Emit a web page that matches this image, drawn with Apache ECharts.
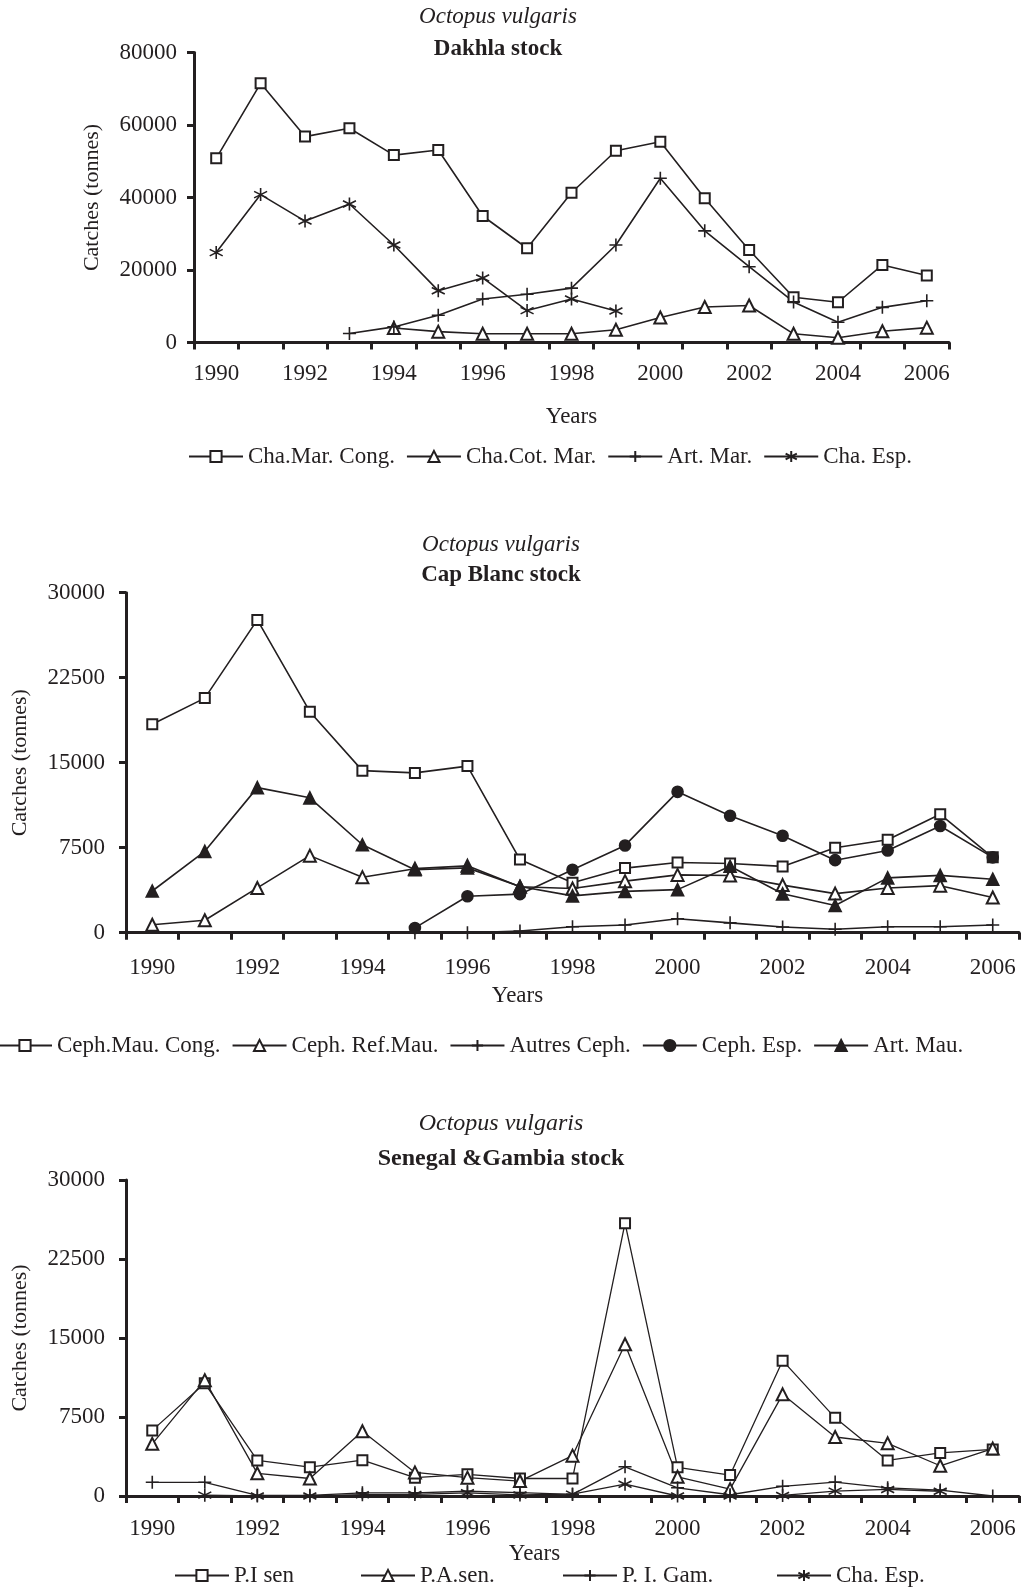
<!DOCTYPE html>
<html>
<head>
<meta charset="utf-8">
<script src="https://cdn.jsdelivr.net/npm/echarts@6/dist/echarts.min.js"></script>
<style>
html,body{margin:0;padding:0;background:#fff;}
#chart{width:1029px;height:1591px;}
</style>
</head>
<body>
<div id="chart"></div>
<script>
// ---------- DATA ----------
const years = ['1990','1991','1992','1993','1994','1995','1996','1997','1998','1999','2000','2001','2002','2003','2004','2005','2006'];

// Dakhla stock (tonnes)
const dakChaMarCong = [50800, 71500, 56800, 59100, 51700, 53100, 34900, 26000, 41300, 52900, 55400, 39800, 25500, 12500, 11100, 21400, 18500];
const dakChaCotMar  = [null, null, null, null, 4000, 3000, 2400, 2400, 2400, 3500, 6900, 9800, 10200, 2400, 1300, 3100, 4100];
const dakArtMar     = [null, null, null, 2500, 4300, 7500, 12000, 13300, 15000, 26900, 45300, 30800, 20900, 11200, 5600, 9700, 11500];
const dakChaEsp     = [24800, 40800, 33500, 38200, 26900, 14300, 17800, 8800, 12000, 8700, null, null, null, null, null, null, null];

// Cap Blanc stock (tonnes)
const cbCephMauCong = [18400, 20700, 27600, 19500, 14300, 14100, 14700, 6450, 4400, 5700, 6200, 6100, 5850, 7500, 8200, 10450, 6650];
const cbCephRefMau  = [700, 1100, 3950, 6800, 4900, 5650, 5900, 4050, 3900, 4550, 5100, 5050, 4200, 3450, 3950, 4150, 3100];
const cbAutresCeph  = [null, null, null, null, null, 0, 0, 150, 520, 680, 1230, 870, 500, 300, 520, 520, 680];
const cbCephEsp     = [null, null, null, null, null, 420, 3220, 3400, 5560, 7700, 12430, 10320, 8550, 6400, 7250, 9420, 6650];
const cbArtMau      = [3680, 7180, 12800, 11900, 7760, 5550, 5720, 4080, 3250, 3650, 3800, 5860, 3430, 2400, 4840, 5060, 4720];

// Senegal & Gambia stock (tonnes)
const sgPIsen   = [6230, 10700, 3380, 2740, 3400, 1740, 2060, 1660, 1660, 25900, 2720, 1990, 12850, 7420, 3380, 4090, 4420];
const sgPAsen   = [4950, 11000, 2150, 1660, 6150, 2240, 1740, 1420, 3830, 14400, 1820, 650, 9650, 5600, 5000, 2870, 4500];
const sgPIGam   = [1300, 1300, 60, 60, 300, 300, 450, 320, 150, 2770, 780, 120, 920, 1320, 780, 560, 0];
const sgChaEsp  = [null, 80, 0, 0, 120, 150, 300, 100, 180, 1120, 0, 0, 50, 460, 620, 450, null];

const yTicks1 = {min: 0, max: 80000, interval: 20000};
const yTicks23 = {min: 0, max: 30000, interval: 7500};

// ---------- STYLE ----------
const INK = '#231f20';
const FONT = 'Liberation Serif';
const PLUS = 'path://M5,0L5,10M0,5L10,5';
const STAR = 'path://M5,0L5,10M0.67,2.5L9.33,7.5M0.67,7.5L9.33,2.5';

function ser(name, data, idx, symbol, size, lw) {
  return {
    type: 'line', name: name, data: data,
    xAxisIndex: idx, yAxisIndex: idx,
    symbol: symbol, symbolSize: size, showAllSymbol: true,
    lineStyle: {color: INK, width: lw},
    itemStyle: {color: INK, borderColor: INK, borderWidth: 1.6},
    emphasis: {disabled: true},
    animation: false
  };
}

function xAx(idx, margin, nameGap, shift) {
  return {
    type: 'category', gridIndex: idx, data: years, boundaryGap: true,
    axisLine: {show: true, lineStyle: {color: INK, width: 3}},
    axisTick: {show: true, interval: 0, length: 7, lineStyle: {color: INK, width: 3}},
    axisLabel: {interval: 1, margin: margin, fontSize: 23, fontFamily: FONT, color: INK},
    splitLine: {show: false},
    name: 'Years', nameLocation: 'middle', nameGap: nameGap,
    nameTextStyle: {fontSize: 23, fontFamily: FONT, color: INK, padding: [0, shift * 2, 0, 0]}
  };
}

function yAx(idx, ticks, margin, nameGap) {
  return {
    type: 'value', gridIndex: idx, min: ticks.min, max: ticks.max, interval: ticks.interval,
    axisLine: {show: true, lineStyle: {color: INK, width: 3}},
    axisTick: {show: true, length: 7, lineStyle: {color: INK, width: 3}},
    axisLabel: {margin: margin, fontSize: 23, fontFamily: FONT, color: INK,
      formatter: function (v) { return String(v); }},
    splitLine: {show: false},
    name: 'Catches (tonnes)', nameLocation: 'middle', nameGap: nameGap, nameRotate: 90,
    nameTextStyle: {fontSize: 22, fontFamily: FONT, color: INK}
  };
}

function ttl(text, x, y, italic, size) {
  return {
    text: text, left: x, top: y, textAlign: 'center', padding: 0,
    textStyle: {fontFamily: FONT, fontSize: size, color: INK,
      fontStyle: italic ? 'italic' : 'normal', fontWeight: italic ? 'normal' : 'bold'}
  };
}

function leg(names, x, y, gap) {
  return {
    data: names, left: x, top: y, itemWidth: 54, itemHeight: 14, itemGap: gap,
    selectedMode: false, padding: 0,
    textStyle: {fontFamily: FONT, fontSize: 23, color: INK}
  };
}

const option = {
  backgroundColor: '#fff',
  animation: false,
  title: [
    ttl('Octopus vulgaris', 498, 5, true, 23),
    ttl('Dakhla stock', 498, 38, false, 23),
    ttl('Octopus vulgaris', 501, 533, true, 23),
    ttl('Cap Blanc stock', 501, 564, false, 23),
    ttl('Octopus vulgaris', 501, 1112, true, 24),
    ttl('Senegal &Gambia stock', 501, 1147, false, 24)
  ],
  grid: [
    {left: 194, top: 52.5, width: 755, height: 290},
    {left: 126, top: 592.7, width: 893, height: 340},
    {left: 126, top: 1180, width: 893, height: 316}
  ],
  xAxis: [xAx(0, 20, 63, 0), xAx(1, 24, 52, 55), xAx(2, 21, 46, 38)],
  yAxis: [yAx(0, yTicks1, 17, 91), yAx(1, yTicks23, 21, 95), yAx(2, yTicks23, 21, 95)],
  legend: [
    leg(['Cha.Mar. Cong.', 'Cha.Cot. Mar.', 'Art. Mar.', 'Cha. Esp.'], 188, 445, 11),
    leg(['Ceph.Mau. Cong.', 'Ceph. Ref.Mau.', 'Autres Ceph.', 'Ceph. Esp.', 'Art. Mau.'], -3, 1034, 11),
    leg(['P.I sen'], 174, 1564, 10),
    leg(['P.A.sen.'], 360, 1564, 10),
    leg(['P. I. Gam.'], 562, 1564, 10),
    leg(['Cha. Esp.'], 776, 1564, 10)
  ],
  series: [
    ser('Cha.Mar. Cong.', dakChaMarCong, 0, 'emptyRect', 10, 1.6),
    ser('Cha.Cot. Mar.', dakChaCotMar, 0, 'emptyTriangle', 12, 1.6),
    ser('Art. Mar.', dakArtMar, 0, PLUS, 13, 1.6),
    ser('Cha. Esp.', dakChaEsp, 0, STAR, 13, 1.6),

    ser('Ceph.Mau. Cong.', cbCephMauCong, 1, 'emptyRect', 10, 1.6),
    ser('Ceph. Ref.Mau.', cbCephRefMau, 1, 'emptyTriangle', 12, 1.6),
    ser('Autres Ceph.', cbAutresCeph, 1, PLUS, 13, 1.6),
    ser('Ceph. Esp.', cbCephEsp, 1, 'circle', 11, 1.6),
    ser('Art. Mau.', cbArtMau, 1, 'triangle', 12, 1.6),

    ser('P.I sen', sgPIsen, 2, 'emptyRect', 10, 1.3),
    ser('P.A.sen.', sgPAsen, 2, 'emptyTriangle', 12, 1.3),
    ser('P. I. Gam.', sgPIGam, 2, PLUS, 13, 1.3),
    ser('Cha. Esp.', sgChaEsp, 2, STAR, 13, 1.3)
  ]
};

const chart = echarts.init(document.getElementById('chart'), null, {renderer: 'canvas'});
chart.setOption(option);
</script>
</body>
</html>
